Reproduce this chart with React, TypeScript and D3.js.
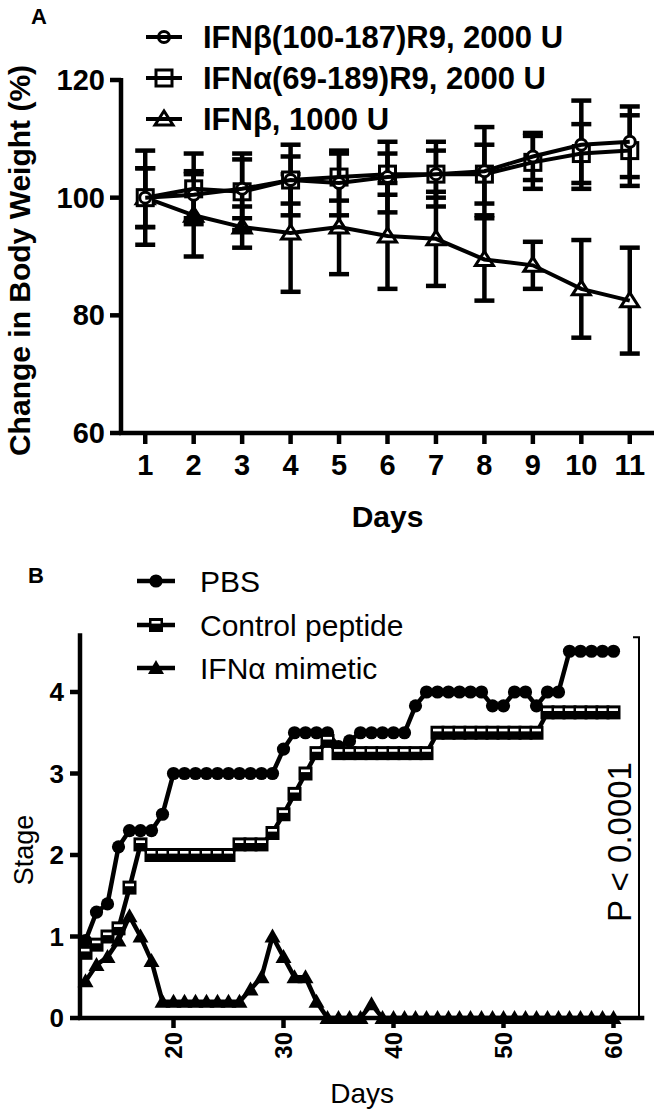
import React from "react";
import * as d3 from "d3";

// ---------- Panel A data ----------
const daysA = [1, 2, 3, 4, 5, 6, 7, 8, 9, 10, 11];
const betaR9Mean = [100, 100.5, 101.5, 103, 102.5, 103.5, 104, 104.5, 107, 109, 109.5];
const betaR9Err = [8, 4, 5, 6, 5.5, 6, 5.5, 7.5, 4, 7.5, 6];
const alphaR9Mean = [100, 101.5, 101, 103, 103.5, 104, 104, 104, 106, 107.5, 108];
const alphaR9Err = [5, 6, 6.5, 4, 4, 3.5, 4, 5, 4.5, 5, 6];
const beta1000Mean = [100, 97, 95, 94, 95, 93.5, 93, 89.5, 88.5, 84.5, 82.5];
const beta1000Err = [5, 7, 3.5, 10, 8, 9, 8, 7, 4, 8.3, 9];
const yTicksA = [60, 80, 100, 120];
const legendA = ["IFNβ(100-187)R9, 2000 U", "IFNα(69-189)R9, 2000 U", "IFNβ, 1000 U"];

// ---------- Panel B data ----------
const daysB = [12, 13, 14, 15, 16, 17, 18, 19, 20, 21, 22, 23, 24, 25, 26, 27, 28, 29, 30, 31, 32, 33, 34, 35, 36, 37, 38, 39, 40, 41, 42, 43, 44, 45, 46, 47, 48, 49, 50, 51, 52, 53, 54, 55, 56, 57, 58, 59, 60];
const pbsStage = [0.95, 1.3, 1.4, 2.1, 2.3, 2.3, 2.3, 2.5, 3.0, 3.0, 3.0, 3.0, 3.0, 3.0, 3.0, 3.0, 3.0, 3.0, 3.3, 3.5, 3.5, 3.5, 3.5, 3.33, 3.4, 3.5, 3.5, 3.5, 3.5, 3.5, 3.83, 4.0, 4.0, 4.0, 4.0, 4.0, 4.0, 3.83, 3.83, 4.0, 4.0, 3.83, 4.0, 4.0, 4.5, 4.5, 4.5, 4.5, 4.5];
const controlStage = [0.8, 0.9, 1.0, 1.1, 1.6, 2.13, 2.0, 2.0, 2.0, 2.0, 2.0, 2.0, 2.0, 2.0, 2.13, 2.13, 2.13, 2.27, 2.5, 2.75, 3.0, 3.25, 3.4, 3.25, 3.25, 3.25, 3.25, 3.25, 3.25, 3.25, 3.25, 3.25, 3.5, 3.5, 3.5, 3.5, 3.5, 3.5, 3.5, 3.5, 3.5, 3.5, 3.75, 3.75, 3.75, 3.75, 3.75, 3.75, 3.75];
const mimeticStage = [0.45, 0.65, 0.75, 0.95, 1.25, 1.0, 0.7, 0.2, 0.2, 0.2, 0.2, 0.2, 0.2, 0.2, 0.2, 0.35, 0.5, 1.0, 0.75, 0.5, 0.5, 0.2, 0, 0, 0, 0, 0.17, 0, 0, 0, 0, 0, 0, 0, 0, 0, 0, 0, 0, 0, 0, 0, 0, 0, 0, 0, 0, 0, 0];
const xTicksB = [20, 30, 40, 50, 60];
const yTicksB = [0, 1, 2, 3, 4];
const legendB = ["PBS", "Control peptide", "IFNα mimetic"];

const FONT = "'Liberation Sans', Arial, Helvetica, sans-serif";

// ---------- scales ----------
const xA = d3.scaleLinear().domain([0.5, 11.5]).range([121, 654]);
const yA = d3.scaleLinear().domain([60, 120]).range([433, 80]);
const xB = d3.scaleLinear().domain([11.5, 62.8]).range([80, 644.3]);
const yB = d3.scaleLinear().domain([0, 4]).range([1018, 692]);

type MarkerKind = "circleOpen" | "squareOpen" | "triOpen" | "circleFill" | "squareB" | "triFill";

function Marker({ kind, x, y }: { kind: MarkerKind; x: number; y: number }) {
  switch (kind) {
    case "circleOpen":
      return <circle cx={x} cy={y} r={5.5} fill="#fff" stroke="#000" strokeWidth={3} />;
    case "squareOpen":
      return <rect x={x - 8} y={y - 8} width={16} height={16} fill="#fff" stroke="#000" strokeWidth={3} />;
    case "triOpen":
      return <path d={`M${x - 9},${y + 6}L${x + 9},${y + 6}L${x},${y - 8}Z`} fill="#fff" stroke="#000" strokeWidth={3} />;
    case "circleFill":
      return <circle cx={x} cy={y} r={6.6} fill="#000" />;
    case "squareB":
      return (
        <g>
          <rect x={x - 7} y={y - 7} width={14} height={14} fill="#000" />
          <rect x={x - 4.5} y={y - 4} width={9} height={2.6} fill="#fff" />
        </g>
      );
    case "triFill":
      return <path d={`M${x - 8},${y + 6}L${x + 8},${y + 6}L${x},${y - 8}Z`} fill="#000" />;
  }
}

function SeriesA({ mean, err, kind }: { mean: number[]; err: number[]; kind: MarkerKind }) {
  const line = d3.line<number>().x((_, i) => xA(daysA[i])).y((d) => yA(d));
  return (
    <g>
      {mean.map((m, i) => {
        const x = xA(daysA[i]);
        const y1 = yA(m + err[i]);
        const y2 = yA(m - err[i]);
        return (
          <g key={i} stroke="#000" strokeWidth={4.5}>
            <line x1={x} x2={x} y1={y1} y2={y2} />
            <line x1={x - 10} x2={x + 10} y1={y1} y2={y1} />
            <line x1={x - 10} x2={x + 10} y1={y2} y2={y2} />
          </g>
        );
      })}
      {mean.map((m, i) => (
        <Marker key={i} kind={kind} x={xA(daysA[i])} y={yA(m)} />
      ))}
      <path d={line(mean) || ""} fill="none" stroke="#000" strokeWidth={4} />
    </g>
  );
}

function SeriesB({ vals, kind }: { vals: number[]; kind: MarkerKind }) {
  const line = d3.line<number>().x((_, i) => xB(daysB[i])).y((d) => yB(d));
  return (
    <g>
      <path d={line(vals) || ""} fill="none" stroke="#000" strokeWidth={4.5} />
      {vals.map((v, i) => (
        <Marker key={i} kind={kind} x={xB(daysB[i])} y={yB(v)} />
      ))}
    </g>
  );
}

export default function App() {
  const kindsA: MarkerKind[] = ["circleOpen", "squareOpen", "triOpen"];
  const kindsB: MarkerKind[] = ["circleFill", "squareB", "triFill"];
  const legendYA = [37, 78, 119];
  const legendYB = [581, 625, 668];
  const [x0A, x1A] = xA.range();
  const [y0A, y1A] = yA.range();
  const [x0B, x1B] = xB.range();
  const yAxisTopB = yB(4.72);

  return (
    <svg
      width={661}
      height={1113}
      style={{ position: "absolute", left: 0, top: 0, background: "#fff" }}
      fontFamily={FONT}
    >
      <rect width={661} height={1113} fill="#fff" />
      {/* ================= Panel A ================= */}
      <text x={31} y={24} fontSize={22} fontWeight="bold">A</text>

      <g stroke="#000" strokeWidth={4.5}>
        <line x1={x0A} x2={x0A} y1={y1A - 2} y2={y0A + 2} />
        <line x1={x0A - 2} x2={x1A} y1={y0A} y2={y0A} />
        {yTicksA.map((t) => (
          <line key={t} x1={x0A - 11} x2={x0A} y1={yA(t)} y2={yA(t)} />
        ))}
        {daysA.map((d) => (
          <line key={d} x1={xA(d)} x2={xA(d)} y1={y0A} y2={y0A + 11} />
        ))}
      </g>
      {yTicksA.map((t) => (
        <text key={t} x={x0A - 16} y={yA(t) + 10} fontSize={29} fontWeight="bold" textAnchor="end">
          {t}
        </text>
      ))}
      {daysA.map((d) => (
        <text key={d} x={xA(d)} y={475} fontSize={29} fontWeight="bold" textAnchor="middle">
          {d}
        </text>
      ))}
      <text x={(x0A + x1A) / 2} y={527} fontSize={30} fontWeight="bold" textAnchor="middle">
        Days
      </text>
      <text
        transform={`translate(30,${(y0A + y1A) / 2 + 4}) rotate(-90)`}
        fontSize={30}
        fontWeight="bold"
        textAnchor="middle"
      >
        Change in Body Weight (%)
      </text>

      <SeriesA mean={beta1000Mean} err={beta1000Err} kind="triOpen" />
      <SeriesA mean={alphaR9Mean} err={alphaR9Err} kind="squareOpen" />
      <SeriesA mean={betaR9Mean} err={betaR9Err} kind="circleOpen" />

      {legendA.map((name, i) => (
        <g key={name}>
          <Marker kind={kindsA[i]} x={164} y={legendYA[i]} />
          <line x1={146} x2={182} y1={legendYA[i]} y2={legendYA[i]} stroke="#000" strokeWidth={4} />
          <text x={203} y={legendYA[i] + 11} fontSize={31} fontWeight="bold">
            {name}
          </text>
        </g>
      ))}

      {/* ================= Panel B ================= */}
      <text x={28} y={583} fontSize={22} fontWeight="bold">B</text>
      <g stroke="#000" strokeWidth={4.5}>
        <line x1={x0B} x2={x0B} y1={yAxisTopB} y2={yB(0) + 2} />
        <line x1={x0B - 2} x2={x1B} y1={yB(0)} y2={yB(0)} />
        {yTicksB.map((t) => (
          <line key={t} x1={x0B - 10} x2={x0B} y1={yB(t)} y2={yB(t)} />
        ))}
        {xTicksB.map((t) => (
          <line key={t} x1={xB(t)} x2={xB(t)} y1={yB(0)} y2={yB(0) + 10} />
        ))}
      </g>
      {yTicksB.map((t) => (
        <text key={t} x={x0B - 16} y={yB(t) + 9} fontSize={26} fontWeight="bold" textAnchor="end">
          {t}
        </text>
      ))}
      {xTicksB.map((t) => (
        <text
          key={t}
          transform={`translate(${xB(t)},${yB(0) + 14}) rotate(-90)`}
          fontSize={24}
          fontWeight="bold"
          textAnchor="end"
          dy="0.35em"
        >
          {t}
        </text>
      ))}
      <text x={(x0B + x1B) / 2} y={1103} fontSize={28} textAnchor="middle">
        Days
      </text>
      <text transform={`translate(33,850) rotate(-90)`} fontSize={27} textAnchor="middle">
        Stage
      </text>

      <SeriesB vals={pbsStage} kind="circleFill" />
      <SeriesB vals={controlStage} kind="squareB" />
      <SeriesB vals={mimeticStage} kind="triFill" />

      <g stroke="#000" strokeWidth={2} fill="none">
        <path d={`M633,${yB(4.72) + 4}H639V${yB(0)}H633`} />
      </g>
      <text transform={`translate(631,842) rotate(-90)`} fontSize={33} textAnchor="middle">
        P &lt; 0.0001
      </text>

      {legendB.map((name, i) => (
        <g key={name}>
          <line x1={137} x2={175} y1={legendYB[i]} y2={legendYB[i]} stroke="#000" strokeWidth={4.5} />
          <Marker kind={kindsB[i]} x={156} y={legendYB[i]} />
          <text x={200} y={legendYB[i] + 11} fontSize={30}>
            {name}
          </text>
        </g>
      ))}
    </svg>
  );
}
